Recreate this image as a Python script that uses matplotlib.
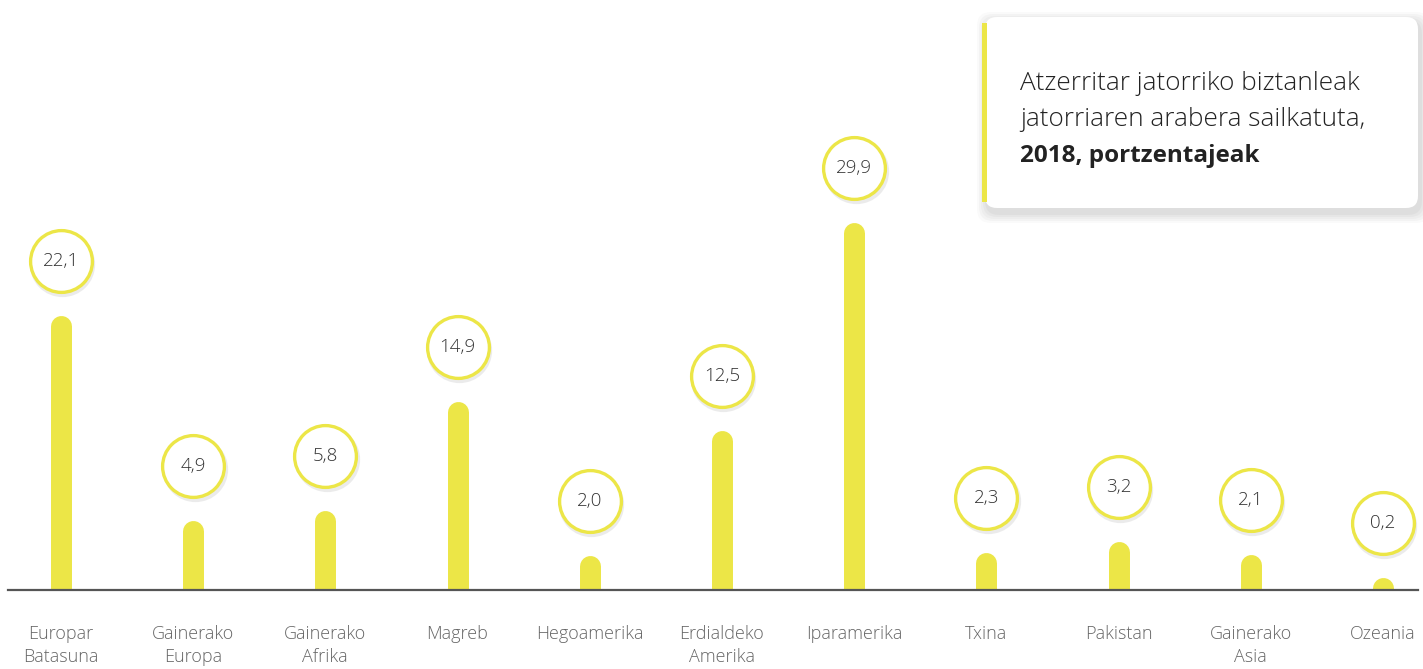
import numpy as np
import matplotlib
matplotlib.use("Agg")
import matplotlib.pyplot as plt
from matplotlib import transforms
from matplotlib.patches import FancyBboxPatch, Rectangle

# ---------------------------------
# Datos
# ---------------------------------
categories = [
    "Europar\nBatasuna", "Gainerako\nEuropa", "Gainerako\nAfrika", "Magreb",
    "Hegoamerika", "Erdialdeko\nAmerika", "Iparamerika", "Txina",
    "Pakistan", "Gainerako\nAsia", "Ozeania",
]
values = [22.1, 4.9, 5.8, 14.9, 2.0, 12.5, 29.9, 2.3, 3.2, 2.1, 0.2]
value_labels = [f"{v:.1f}".replace(".", ",") for v in values]

title_lines = ["Atzerritar jatorriko biztanleak", "jatorriaren arabera sailkatuta,"]
title_bold = "2018, portzentajeak"

YELLOW = "#ECE647"
AXIS = "#555555"
LABEL = "#666666"
TEXT = "#333333"

plt.rcParams["font.family"] = ["Open Sans", "DejaVu Sans"]

W, H = 1423, 669
fig = plt.figure(figsize=(W / 100, H / 100), dpi=100)
fig.patch.set_facecolor("white")

ax = fig.add_axes([8 / W, 79 / H, 1410 / W, 590 / H])
x = np.arange(len(categories))
ax.set_xlim(-0.40, len(categories) - 1 + 0.265)
ax.set_ylim(0, 590 / 11.95)

# barras redondeadas (lineas gruesas con extremo redondo)
for xi, v in zip(x, values):
    ax.plot([xi, xi], [0, v], color=YELLOW, lw=15.1, solid_capstyle="round", zorder=2)

# burbujas con el valor
bubble = transforms.offset_copy(ax.transData, fig=fig, x=0, y=65, units="dots")
shadow = transforms.offset_copy(ax.transData, fig=fig, x=1.5, y=62, units="dots")
ax.plot(x, values, "o", ms=47, color="#c8c8c8", alpha=0.35, mec="none",
        transform=shadow, clip_on=False, zorder=3)
ax.plot(x, values, "o", ms=44.5, mfc="white", mec=YELLOW, mew=2.4,
        transform=bubble, clip_on=False, zorder=4)
for xi, v, lab in zip(x, values, value_labels):
    ax.text(xi, v, lab, transform=bubble, ha="center", va="center",
            fontsize=13.5, color=TEXT, fontweight="light", zorder=5, clip_on=False)

for s in ("top", "left", "right"):
    ax.spines[s].set_visible(False)
ax.spines["bottom"].set_color(AXIS)
ax.spines["bottom"].set_linewidth(1.6)
ax.spines["bottom"].set_zorder(3)
ax.set_yticks([])
ax.set_xticks(x)
ax.set_xticklabels(categories, fontsize=13, color=LABEL, linespacing=1.4,
                   fontweight="light")
ax.tick_params(axis="x", length=0, pad=25)
ax.patch.set_alpha(0)

# ---------------------------------
# Caja del titulo (coordenadas en pixeles)
# ---------------------------------
ov = fig.add_axes([0, 0, 1, 1], zorder=10)
ov.set_xlim(0, W)
ov.set_ylim(H, 0)
ov.axis("off")
ov.patch.set_alpha(0)

bx0, by0, bx1, by1 = 985, 17, 1418, 208
for i, a in enumerate([0.04, 0.05, 0.05, 0.06, 0.07]):
    g = 10 - 2 * i
    ov.add_patch(FancyBboxPatch((bx0 - g + 2, by0 - g + 5), bx1 - bx0 + 2 * g, by1 - by0 + 2 * g,
                                boxstyle="round,pad=0,rounding_size=14", fc="#808080",
                                ec="none", alpha=a))
ov.add_patch(FancyBboxPatch((bx0, by0), bx1 - bx0, by1 - by0,
                            boxstyle="round,pad=0,rounding_size=12", fc="white", ec="none"))
ov.add_patch(Rectangle((982, 23), 5, 179, fc=YELLOW, ec="none"))

ov.text(1020, 84, title_lines[0], fontsize=18.8, color="#222222", va="center", ha="left",
        fontweight="light")
ov.text(1020, 120, title_lines[1], fontsize=18.8, color="#222222", va="center", ha="left",
        fontweight="light")
ov.text(1020, 156, title_bold, fontsize=17.5, color="#222222", va="center", ha="left",
        fontweight="bold")

fig.savefig("out.png", dpi=100)
